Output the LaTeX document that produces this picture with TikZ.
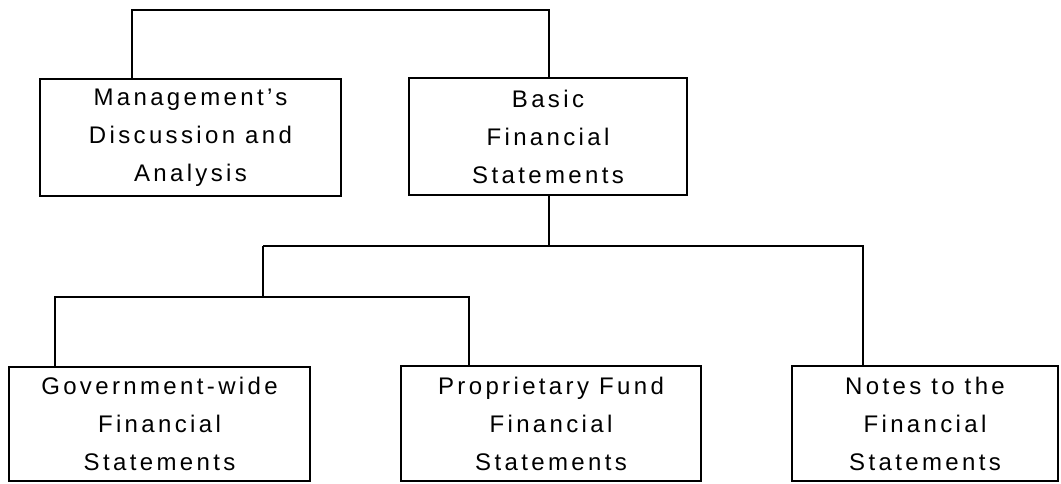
\documentclass[tikz,border=0pt]{standalone}
\usepackage{fontspec}
\setmainfont{Liberation Sans}
\newfontfamily\boxfont[LetterSpace=14]{Liberation Sans}
\usetikzlibrary{positioning}

\tikzset{
  box/.style={draw, line width=1.2pt, inner sep=0pt, align=center,
    font=\boxfont\fontsize{24}{38}\selectfont},
}

\begin{document}
\begin{tikzpicture}[x=1pt, y=-1pt, line width=1.2pt]

  \useasboundingbox (0,0) rectangle (1061,483);

  % upper row
  \node[box, minimum width=301pt, minimum height=117pt] (mda) at (190.5,137.5)
    {Management’s\\Discussion and\\Analysis};
  \node[box, minimum width=278pt, minimum height=117pt] (basic) at (548,136.5)
    {Basic\\Financial\\Statements};

  % lower row
  \node[box, minimum width=301pt, minimum height=114pt] (gov) at (159.5,424)
    {Government-wide\\Financial\\Statements};
  \node[box, minimum width=300pt, minimum height=115pt] (prop) at (551,423.5)
    {Proprietary Fund\\Financial\\Statements};
  \node[box, minimum width=266pt, minimum height=115pt] (notes) at (925,423.5)
    {Notes to the\\Financial\\Statements};

  \coordinate (mdaup) at (132,10);
  \coordinate (basicup) at (549,10);
  \draw (mda.north -| mdaup) -- (mdaup) -- (basicup) -- (basic.north -| basicup);

  \coordinate (hub) at (549,246);
  \coordinate (hubL) at (263,246);
  \coordinate (hubR) at (863,246);
  \draw (basic.south -| hub) -- (hub);
  \draw (hubL) -- (hubR) -- (notes.north -| hubR);

  \coordinate (subL) at (55,297);
  \coordinate (subM) at (263,297);
  \coordinate (subR) at (469,297);
  \draw (hubL) -- (subM);
  \draw (gov.north -| subL) -- (subL) -- (subR) -- (prop.north -| subR);

\end{tikzpicture}
\end{document}
